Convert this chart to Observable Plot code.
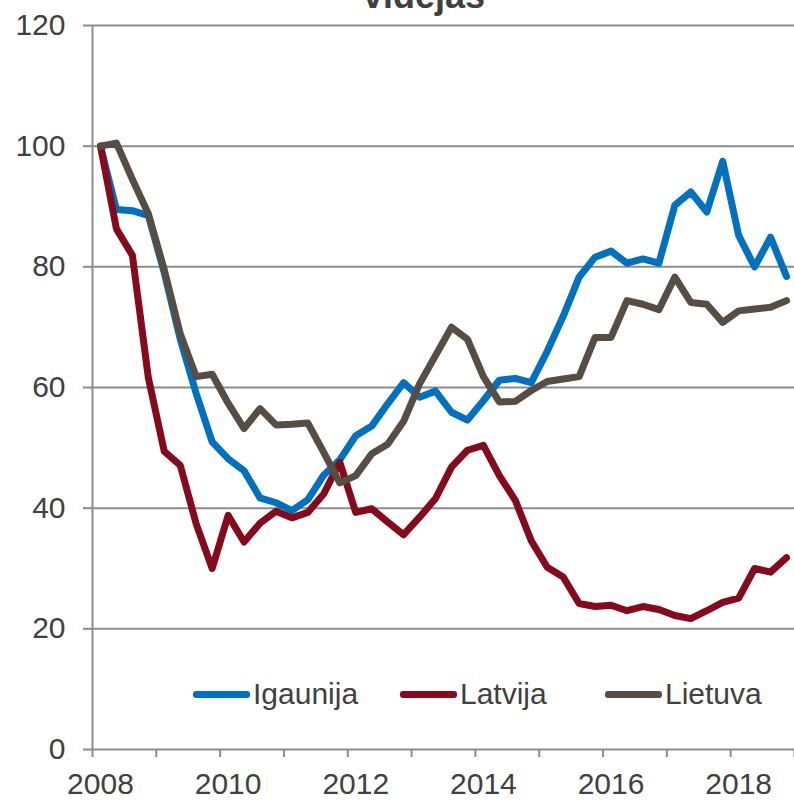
<!DOCTYPE html>
<html>
<head>
<meta charset="utf-8">
<script src="https://cdn.jsdelivr.net/npm/d3@7"></script>
<script src="https://cdn.jsdelivr.net/npm/@observablehq/plot@0.6"></script>
<style>
  html, body { margin: 0; padding: 0; background: #fff; overflow: hidden; }
  #wrap { position: relative; width: 794px; height: 800px; font-family: "Liberation Sans", Arial, sans-serif; }
  #title { position: absolute; left: 0; width: 848px; text-align: center; top: -22px; font-size: 36px; line-height: 36px; font-weight: bold; color: #404040; }
  .leg { position: absolute; top: 676px; height: 36px; display: flex; align-items: center; font-size: 30px; color: #404040; }
  .sw { width: 57px; height: 7px; margin-right: 3px; border-radius: 3px; }
</style>
</head>
<body>
<div id="wrap">
  <div id="chart"></div>
  <div id="title">vidējās</div>
  <div id="legend"></div>
</div>
<script>
const quarters = [
  "2008Q1","2008Q2","2008Q3","2008Q4","2009Q1","2009Q2","2009Q3","2009Q4",
  "2010Q1","2010Q2","2010Q3","2010Q4","2011Q1","2011Q2","2011Q3","2011Q4",
  "2012Q1","2012Q2","2012Q3","2012Q4","2013Q1","2013Q2","2013Q3","2013Q4",
  "2014Q1","2014Q2","2014Q3","2014Q4","2015Q1","2015Q2","2015Q3","2015Q4",
  "2016Q1","2016Q2","2016Q3","2016Q4","2017Q1","2017Q2","2017Q3","2017Q4",
  "2018Q1","2018Q2","2018Q3","2018Q4"
];
const igaunija = [100, 89.5, 89.3, 88.5, 79, 68, 59, 51, 48.2, 46.2,
  41.7, 40.9, 39.6, 41.4, 45.5, 48, 52, 53.6, 57.3, 60.8,
  58.4, 59.4, 55.9, 54.6, 57.8, 61.2, 61.5, 60.8, 66, 71.8,
  78.3, 81.6, 82.6, 80.6, 81.3, 80.6, 90.2, 92.4, 89.1, 97.5,
  85.2, 80, 84.9, 78.4];
const latvija = [100, 86.3, 81.9, 61.6, 49.4, 47.1, 37.4, 30, 38.8, 34.4,
  37.5, 39.5, 38.4, 39.3, 42.4, 47.6, 39.3, 39.9, 37.7, 35.6,
  38.5, 41.6, 46.8, 49.6, 50.4, 45.4, 41.3, 34.6, 30.2, 28.6,
  24.2, 23.7, 23.9, 23, 23.7, 23.2, 22.2, 21.7, 23, 24.4,
  25.1, 30, 29.4, 31.8];
const lietuva = [100, 100.5, 94.5, 88.8, 79.5, 68.9, 61.8, 62.2, 57.4, 53.2,
  56.5, 53.8, 53.9, 54.1, 49.2, 44.2, 45.4, 49, 50.6, 54.4,
  60.6, 65.3, 70, 68, 61.8, 57.6, 57.7, 59.5, 61, 61.4,
  61.8, 68.3, 68.3, 74.4, 73.8, 72.9, 78.3, 74.1, 73.8, 70.8,
  72.7, 73, 73.3, 74.4];
const seriesNames = ["Igaunija", "Latvija", "Lietuva"];
const seriesColors = ["#0070C0", "#870A1C", "#564E44"];
const yTicks = [0, 20, 40, 60, 80, 100, 120];
const yearLabels = ["2008", "2010", "2012", "2014", "2016", "2018"];

const seriesValues = [igaunija, latvija, lietuva];
const rows = [];
seriesValues.forEach((vals, s) => {
  vals.forEach((v, i) => rows.push({series: seriesNames[s], q: quarters[i], pos: i + 0.5, value: v}));
});
// category boundaries every 4 quarters; labels at first quarter of every other year
const tickPos = quarters.map((q, i) => i).filter(i => i % 4 === 0).concat([quarters.length]);
const labelPos = yearLabels.map(y => quarters.indexOf(y + "Q1") + 0.5);
const labelMap = new Map(labelPos.map((p, k) => [p, yearLabels[k]]));

const grid = "#8c8c8c";
const plot = Plot.plot({
  width: 794,
  height: 800,
  marginLeft: 92,
  marginRight: 0,
  marginTop: 25,
  marginBottom: 51,
  style: {fontFamily: "Liberation Sans, Arial, sans-serif", background: "transparent"},
  x: {domain: [0, quarters.length], axis: null},
  y: {domain: [0, 120], axis: null},
  color: {domain: seriesNames, range: seriesColors},
  marks: [
    Plot.gridY(yTicks, {stroke: grid, strokeOpacity: 1, strokeWidth: 2}),
    Plot.ruleX([0], {stroke: grid, strokeWidth: 2}),
    Plot.axisY({ticks: yTicks, tickSize: 9, tickPadding: 18, stroke: grid, strokeWidth: 2, fill: "#404040", fontSize: 30, label: null}),
    Plot.axisX({ticks: tickPos, tickSize: 8, stroke: grid, strokeWidth: 2, tickFormat: () => "", label: null}),
    Plot.axisX({ticks: labelPos, tickSize: 0, tickPadding: 23, fill: "#404040", fontSize: 30, tickFormat: d => labelMap.get(d), label: null}),
    Plot.lineY(rows, {x: "pos", y: "value", z: "series", stroke: "series", strokeWidth: 7, strokeLinejoin: "round", strokeLinecap: "round"})
  ]
});
document.getElementById("chart").appendChild(plot);

const legendLefts = [193, 400, 605];
const legend = document.getElementById("legend");
seriesNames.forEach((name, k) => {
  const item = document.createElement("div");
  item.className = "leg";
  item.style.left = legendLefts[k] + "px";
  const sw = document.createElement("div");
  sw.className = "sw";
  sw.style.background = seriesColors[k];
  const t = document.createElement("span");
  t.textContent = name;
  item.appendChild(sw);
  item.appendChild(t);
  legend.appendChild(item);
});
</script>
</body>
</html>
